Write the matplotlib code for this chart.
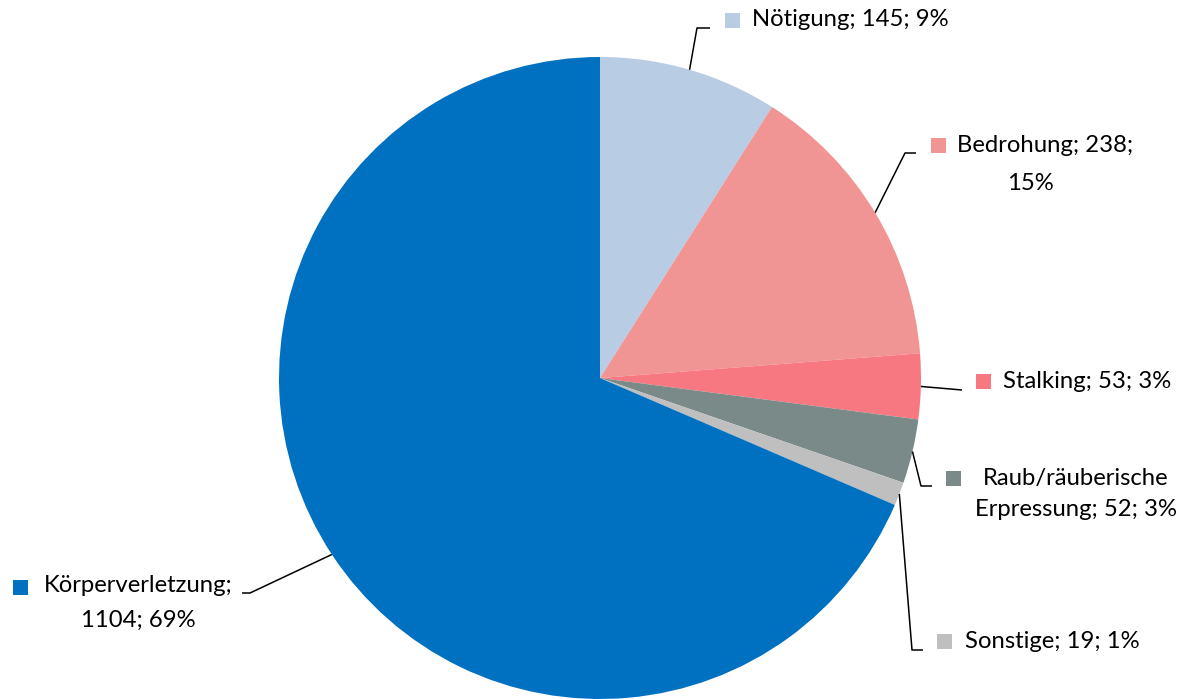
import numpy as np
import matplotlib
matplotlib.use('Agg')
import matplotlib.pyplot as plt

plt.rcParams['font.family'] = ['Lato', 'DejaVu Sans']

names = ['Nötigung', 'Bedrohung', 'Stalking', 'Raub/räuberische Erpressung', 'Sonstige', 'Körperverletzung']
values = [145, 238, 53, 52, 19, 1104]
colors = ['#B8CCE4', '#F09494', '#F87882', '#7A8A88', '#BFBFBF', '#0070C0']

# label lines as shown in the chart
label_lines = [
    ['Nötigung; 145; 9%'],
    ['Bedrohung; 238;', '15%'],
    ['Stalking; 53; 3%'],
    ['Raub/räuberische', 'Erpressung; 52; 3%'],
    ['Sonstige; 19; 1%'],
    ['Körperverletzung;', '1104; 69%'],
]

W, H = 1189, 699
fig = plt.figure(figsize=(W / 100, H / 100), dpi=100)
ax = fig.add_axes([0, 0, 1, 1])

def Y(y):
    # pixel rows counted from top
    return H - y

cx, cy, r = 600, 378, 321
wedges, _ = ax.pie(values, colors=colors, startangle=90, counterclock=False,
                   center=(cx, Y(cy)), radius=r, frame=True,
                   wedgeprops=dict(linewidth=0))
ax.set_xlim(0, W)
ax.set_ylim(0, H)
ax.set_aspect('equal')
ax.axis('off')

# marker square centre, per-line text anchors (x, y, ha), leader bends
layout = [
    dict(m=(731.5, 19.5), t=[(752, 20, 'left')], bend=[(697, 28), (710, 28)]),
    dict(m=(937.5, 144.5), t=[(957, 145, 'left'), (1030, 184, 'center')], bend=[(905, 153), (916, 153)]),
    dict(m=(982.5, 380.5), t=[(1003, 381, 'left')], bend=[(962, 390)]),
    dict(m=(952.5, 477.5), t=[(1076, 478, 'center'), (1076, 510, 'center')], bend=[(921, 486), (932, 486)]),
    dict(m=(943.5, 640.5), t=[(965, 641, 'left')], bend=[(912, 650), (923, 650)]),
    dict(m=(19.5, 586.5), t=[(138, 586, 'center'), (138, 620, 'center')], bend=[(250, 593), (242, 593)]),
]

for w, lay, lines, col in zip(wedges, layout, label_lines, colors):
    mid = np.deg2rad((w.theta1 + w.theta2) / 2)
    xs = [cx + r * np.cos(mid)] + [p[0] for p in lay['bend']]
    ys = [Y(cy) + r * np.sin(mid)] + [Y(p[1]) for p in lay['bend']]
    ax.plot(xs, ys, color='black', lw=1.1, solid_capstyle='butt')
    ax.plot(lay['m'][0], Y(lay['m'][1]), marker='s', ms=10.8, color=col, mew=0)
    for line, (tx, ty, ha) in zip(lines, lay['t']):
        ax.text(tx, Y(ty), line, ha=ha, va='center', fontsize=17.2, color='black')

fig.savefig('out.png', dpi=100)
